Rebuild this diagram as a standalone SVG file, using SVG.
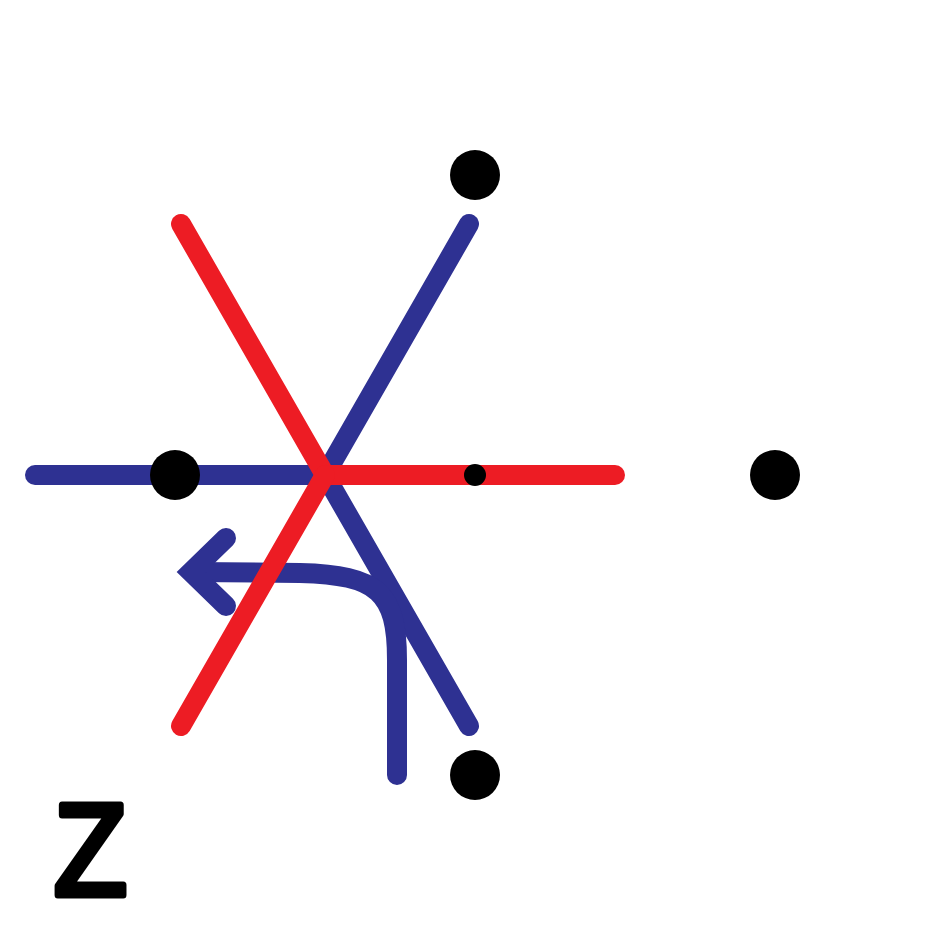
<svg xmlns="http://www.w3.org/2000/svg" width="950" height="950" viewBox="0 0 950 950">
  <style>
    .blue { stroke: #2E3192; stroke-width: 20; stroke-linecap: round; fill: none; }
    .red { stroke: #ED1C24; stroke-width: 20; stroke-linecap: round; fill: none; }
    .dot { fill: #000000; }
    .label { font-family: "Liberation Sans", Arial, sans-serif; font-weight: normal; font-size: 130px; fill: #000; stroke: #000; stroke-width: 7; stroke-linejoin: round; }
  </style>
  <rect width="950" height="950" fill="#ffffff"/>
  <g id="connectors">
    <g id="blue-lines">
      <line class="blue" x1="35" y1="475" x2="325" y2="475"/>
      <line class="blue" x1="325" y1="475" x2="469" y2="224"/>
      <line class="blue" x1="325" y1="475" x2="469" y2="726"/>
    </g>
    <g id="turn-arrow">
      <path class="blue" d="M397,775 V660 C397,592 378,575 300,573 L192,572"/>
      <path class="blue" d="M226,538 L191,572 L226,606" stroke-linejoin="miter"/>
    </g>
    <g id="red-lines">
      <line class="red" x1="181" y1="224" x2="325" y2="475"/>
      <line class="red" x1="325" y1="475" x2="615" y2="475"/>
      <line class="red" x1="325" y1="475" x2="181" y2="726"/>
    </g>
  </g>
  <g id="node-top"><circle class="dot" cx="475" cy="175" r="25"/></g>
  <g id="node-left"><circle class="dot" cx="175" cy="475" r="25"/></g>
  <g id="node-center"><circle class="dot" cx="475" cy="475" r="11"/></g>
  <g id="node-right"><circle class="dot" cx="775" cy="475" r="25"/></g>
  <g id="node-bottom"><circle class="dot" cx="475" cy="775" r="25"/></g>
  <g id="label-z">
    <text class="label" x="0" y="0" transform="translate(54,894.5) scale(0.92,1)">Z</text>
  </g>
</svg>
